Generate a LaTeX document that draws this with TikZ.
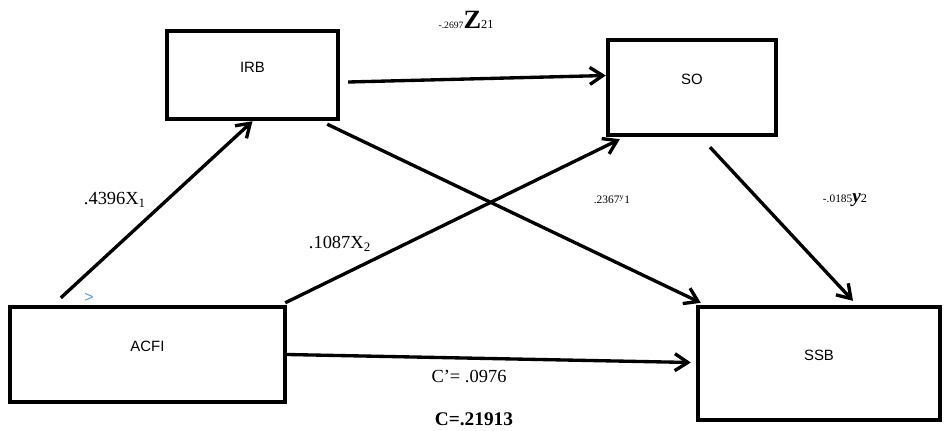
\documentclass[tikz,border=0pt]{standalone}
\usepackage{fontspec}
\setmainfont{Liberation Serif}
\setsansfont{Liberation Sans}
\usetikzlibrary{arrows.meta,calc}
\definecolor{markblue}{HTML}{5B9BD5}

\begin{document}
\begin{tikzpicture}[x=0.02cm, y=-0.02cm,
  box/.style={draw=black, line width=2.5pt, fill=white, inner sep=0pt,
              font=\sffamily\fontsize{8.5}{9}\selectfont, text height=2mm, text depth=3.2mm},
  coef/.style={font=\fontsize{10.5}{12}\selectfont, inner sep=0pt},
  small/.style={coef, font=\fontsize{6.5}{7}\selectfont},
  arr/.style={-{Straight Barb[length=2.6mm, width=3.4mm]}, line width=1.9pt}]
  \useasboundingbox (0,0) rectangle (947,430);
  \node[box, minimum width=3.42cm, minimum height=1.76cm] (irb) at (252.5,75) {IRB};
  \node[box, minimum width=3.36cm, minimum height=1.9cm] (so) at (692,87.5) {SO};
  \node[box, minimum width=5.5cm, minimum height=1.9cm] (acfi) at (147.5,354.5) {ACFI};
  \node[box, minimum width=4.84cm, minimum height=2.26cm] (ssb) at (819,363.5) {SSB};
  \draw[arr] ($(acfi.north west)+(53,-7)$) -- (irb.south);
  \draw[arr] ($(irb.east)+(8,7)$) -- ($(so.west)+(0,-12)$);
  \draw[arr] ($(acfi.north east)+(-2,-2)$) -- ($(so.south west)+(14,2)$);
  \draw[arr] ($(irb.south east)+(-13,3)$) -- ($(ssb.north west)+(5,-2)$);
  \draw[arr] ($(so.south)+(18,10)$) -- ($(ssb.north)+(34,-4)$);
  \draw[arr] (acfi.east) -- ($(ssb.west)+(-5,-1)$);
  \node[coef] (z21) at (466,20) {{\fontsize{5.5}{6}\selectfont -.2697}{\fontsize{15}{16}\selectfont\bfseries Z}{\fontsize{7}{7}\selectfont 21}};
  \node[coef] (x1) at (115,200) {.4396X\textsubscript{1}};
  \node[coef] (x2) at (340,244) {.1087X\textsubscript{2}};
  \node[small] (y1) at (612,200) {.2367\textsuperscript{y}1};
  \node[coef] (y2) at (845,200) {{\fontsize{6.5}{7}\selectfont -.0185}{\fontsize{11}{12}\selectfont\bfseries\itshape y}{\fontsize{7}{7}\selectfont 2}};
  \node[coef] (cp) at (469,376) {C'= .0976};
  \node[coef, font=\fontsize{11}{12}\selectfont\bfseries] (c) at (474,419) {C=.21913};
  \node[text=markblue, font=\sffamily\fontsize{9}{10}\selectfont, inner sep=0pt] (mark) at (89,298) {>};
\end{tikzpicture}
\end{document}
